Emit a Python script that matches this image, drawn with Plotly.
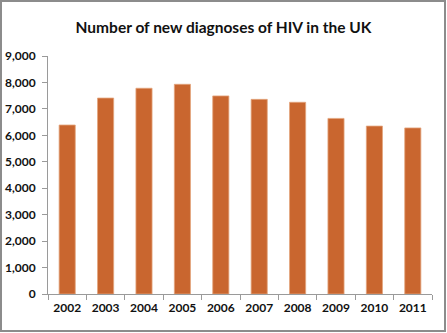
import plotly.graph_objects as go

years = ["2002", "2003", "2004", "2005", "2006", "2007", "2008", "2009", "2010", "2011"]
diagnoses = [6390, 7410, 7780, 7930, 7490, 7360, 7250, 6640, 6350, 6280]
y_ticks = [0, 1000, 2000, 3000, 4000, 5000, 6000, 7000, 8000, 9000]
y_tick_labels = ["0", "1,000", "2,000", "3,000", "4,000", "5,000", "6,000", "7,000", "8,000", "9,000"]

W, H = 447, 333
L, R, T, B = 48, 15, 56, 39
pw, ph = W - L - R, H - T - B

fig = go.Figure(go.Bar(
    x=years,
    y=diagnoses,
    marker=dict(color="#C9662F", line=dict(color="#E3A57C", width=0.8)),
    width=0.42,
))

def px_x(p):
    return (p - L) / pw

def px_y(p):
    return (H - B - p) / ph

tick_font = dict(family="Lato", size=12, color="#111111", weight="bold")

fig.update_layout(
    width=W, height=H,
    margin=dict(l=L, r=R, t=T, b=B, autoexpand=False),
    paper_bgcolor="white",
    plot_bgcolor="white",
    showlegend=False,
    title=dict(
        text="Number of new diagnoses of HIV in the UK",
        x=0.5, xanchor="center", y=1 - 28 / H, yanchor="middle",
        font=dict(family="Lato", size=15.5, color="#111111", weight="bold"),
    ),
    xaxis=dict(
        type="category",
        automargin=False,
        tickangle=0,
        showline=True, linecolor="#9A9A9A", linewidth=1,
        ticks="outside", tickson="boundaries", ticklen=5, tickcolor="#9A9A9A",
        ticklabelstandoff=3,
        tickfont=tick_font,
        showgrid=False, zeroline=False,
    ),
    yaxis=dict(
        range=[0, 9000],
        automargin=False,
        tickvals=y_ticks, ticktext=y_tick_labels,
        showline=True, linecolor="#9A9A9A", linewidth=1,
        ticks="outside", ticklen=5, tickcolor="#9A9A9A",
        ticklabelstandoff=4,
        tickfont=tick_font,
        showgrid=False, zeroline=False,
    ),
    shapes=[dict(
        type="rect", xref="paper", yref="paper",
        x0=px_x(1), x1=px_x(445), y0=px_y(331), y1=px_y(1),
        line=dict(color="#8C8C8C", width=2), fillcolor="rgba(0,0,0,0)",
        layer="above",
    )],
)

fig.write_html("out.html")
